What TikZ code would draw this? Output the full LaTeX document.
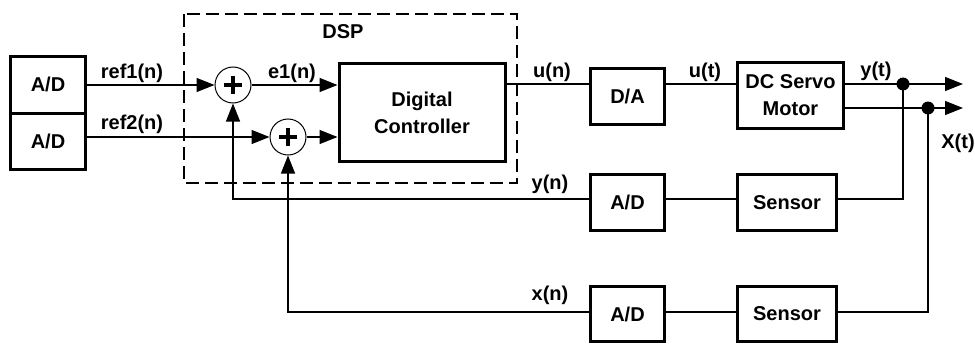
\documentclass[tikz,border=0pt]{standalone}
\usepackage{fontspec}
\setmainfont{Liberation Sans}
\usetikzlibrary{arrows.meta}
\begin{document}
\begin{tikzpicture}[x=1pt,y=-1pt,
  txt/.style={font=\fontsize{20}{27}\selectfont\bfseries, inner sep=0pt},
  blk/.style={txt, draw, line width=3pt, align=center},
  sumc/.style={draw, circle, line width=1pt, minimum size=36pt, inner sep=0pt},
  plusbar/.style={line width=4pt},
  conn/.style={line width=1.1pt},
  arr/.style={conn, -{Triangle[length=18pt,width=14pt]}},
  dspbox/.style={line width=2.5pt, dash pattern=on 13pt off 6pt},
  jdot/.style={circle, fill, minimum size=13pt, inner sep=0pt}]
\useasboundingbox (0,0) rectangle (975,345);

% levels
\coordinate (ru) at (0,84);
\coordinate (rx) at (0,108);
\coordinate (fy) at (0,199);
\coordinate (fx) at (0,312);

% blocks
\node[blk, minimum width=75pt, minimum height=56.5pt] (ad1) at (48,84.75) {A/D};
\node[blk, minimum width=75pt, minimum height=56.5pt] (ad2) at (48,141.25) {A/D};
\node[blk, minimum width=166pt, minimum height=98pt] (ctrl) at (422,112.5) {Digital\\Controller};
\node[blk, minimum width=74pt, minimum height=56pt] (da) at (627.5,96.5) {D/A};
\node[blk, minimum width=106pt, minimum height=66pt] (mot) at (790.5,95.5) {DC Servo\\Motor};
\node[blk, minimum width=74pt, minimum height=56pt] (ad3) at (627.5,202.5) {A/D};
\node[blk, minimum width=99pt, minimum height=56pt] (sen1) at (787,202.5) {Sensor};
\node[blk, minimum width=74pt, minimum height=55pt] (ad4) at (627.5,314) {A/D};
\node[blk, minimum width=99pt, minimum height=55pt] (sen2) at (787,314) {Sensor};

% DSP dashed frame
\draw[dspbox] (184,14) rectangle (517,183);
\node[txt] (dsp) at (343,31.5) {DSP};

% summing junctions
\node[sumc] (s1) at (233,85) {};
\node[sumc] (s2) at (288,137) {};
\foreach \s in {s1,s2}{
  \draw[plusbar] ([xshift=-9pt]\s.center) -- ([xshift=9pt]\s.center);
  \draw[plusbar] ([yshift=-9pt]\s.center) -- ([yshift=9pt]\s.center);
}

% junction dots and outputs
\node[jdot] (d1) at (903,84) {};
\node[jdot] (d2) at (928,108) {};
\coordinate (o1) at (963,84);
\coordinate (o2) at (963,108);

% forward connectors
\draw[arr] (ad1.east |- s1.west) -- (s1.west);
\draw[arr] (ad2.east |- s2.west) -- (s2.west);
\draw[arr] (s1.east) -- (ctrl.west |- s1.east);
\draw[arr] (s2.east) -- (ctrl.west |- s2.east);
\draw[conn] (ctrl.east |- ru) -- (da.west |- ru);
\draw[conn] (da.east |- ru) -- (mot.west |- ru);
\draw[arr] (mot.east |- ru) -- (o1);
\draw[arr] (mot.east |- rx) -- (o2);

% feedback connectors
\draw[conn] (d1.center) |- (sen1.east |- fy);
\draw[conn] (sen1.west |- fy) -- (ad3.east |- fy);
\draw[arr] (ad3.west |- fy) -| (s1.south);
\draw[conn] (d2.center) |- (sen2.east |- fx);
\draw[conn] (sen2.west |- fx) -- (ad4.east |- fx);
\draw[arr] (ad4.west |- fx) -| (s2.south);

% signal labels
\node[txt] (lr1) at (132,73) {ref1(n)};
\node[txt] (lr2) at (132,124) {ref2(n)};
\node[txt] (le1) at (292,73) {e1(n)};
\node[txt] (lun) at (552,72) {u(n)};
\node[txt] (lut) at (705,72) {u(t)};
\node[txt] (lyt) at (876,71) {y(t)};
\node[txt] (lxt) at (958,143) {X(t)};
\node[txt] (lyn) at (550,184) {y(n)};
\node[txt] (lxn) at (550,295) {x(n)};
\end{tikzpicture}
\end{document}
